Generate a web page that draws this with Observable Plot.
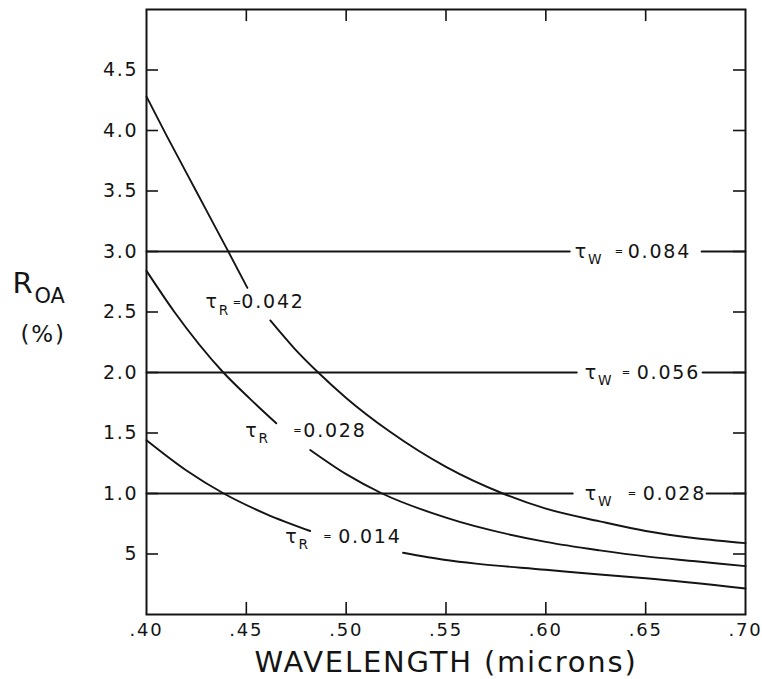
<!DOCTYPE html>
<html>
<head>
<meta charset="utf-8">
<script src="https://cdn.jsdelivr.net/npm/d3@7"></script>
<script src="https://cdn.jsdelivr.net/npm/@observablehq/plot@0.6"></script>
<style>
  html, body { margin: 0; padding: 0; background: #fff; }
  #chart svg { display: block; }
</style>
</head>
<body>
<div id="chart"></div>
<script>
// Wavelength ticks (microns) and their printed labels
const xTicks = [0.40, 0.45, 0.50, 0.55, 0.60, 0.65, 0.70];
const xTickLabels = [".40", ".45", ".50", ".55", ".60", ".65", ".70"];
// R_OA ticks (%); the 0.5 tick is printed as "5"
const yTicks = [0.5, 1.0, 1.5, 2.0, 2.5, 3.0, 3.5, 4.0, 4.5];
const yTickLabels = ["5", "1.0", "1.5", "2.0", "2.5", "3.0", "3.5", "4.0", "4.5"];

// Rayleigh optical depth curves (wavelength, R_OA %); NaN leaves the gap for the label
const lambdaR042 = [0.400, 0.410, 0.420, 0.430, 0.440, 0.4505, 0.456, 0.462, 0.474, 0.486, 0.500, 0.522, 0.550, 0.5785, 0.600, 0.627, 0.650, 0.675, 0.700];
const valueR042  = [4.28, 3.96, 3.65, 3.34, 3.03, 2.70, NaN, 2.43, 2.20, 2.00, 1.79, 1.51, 1.22, 1.00, 0.875, 0.77, 0.69, 0.63, 0.59];

const lambdaR028 = [0.400, 0.414, 0.4385, 0.452, 0.465, 0.473, 0.482, 0.500, 0.518, 0.550, 0.600, 0.627, 0.650, 0.675, 0.700];
const valueR028  = [2.84, 2.50, 2.00, 1.78, 1.58, NaN, 1.36, 1.16, 1.00, 0.80, 0.60, 0.53, 0.48, 0.44, 0.40];

const lambdaR014 = [0.400, 0.420, 0.4387, 0.460, 0.482, 0.505, 0.5285, 0.550, 0.565, 0.600, 0.627, 0.650, 0.700];
const valueR014  = [1.44, 1.19, 1.00, 0.83, 0.69, NaN, 0.51, 0.45, 0.42, 0.37, 0.33, 0.30, 0.215];

const tauR = ["0.042", "0.028", "0.014"];

// Water-vapour levels (constant R_OA %) and where each line stops for its label
const tauW = ["0.084", "0.056", "0.028"];
const levelW = [3.0, 2.0, 1.0];
const breakStartW = [0.612, 0.6155, 0.6135];
const breakEndW = [0.678, 0.6785, 0.6805];

// Label anchors in data units: tau symbol, "=" sign, value
const rLabelX = [0.4295, 0.4495, 0.4695];
const rLabelY = [2.58, 1.517, 0.64];
const rEqX = [0.4432, 0.4735, 0.4885];
const rValX = [0.4475, 0.4785, 0.496];
const wLabelX = [0.6145, 0.6195, 0.6195];
const wEqX = [0.6345, 0.638, 0.641];
const wValX = [0.641, 0.6455, 0.6485];

// Build tidy rows for the line marks
const curves = [];
[[lambdaR042, valueR042], [lambdaR028, valueR028], [lambdaR014, valueR014]].forEach(([xs, ys], k) => {
  xs.forEach((x, i) => curves.push({series: "R" + tauR[k], x, y: ys[i]}));
});
levelW.forEach((y, k) => {
  const xs = [0.40, breakStartW[k], (breakStartW[k] + breakEndW[k]) / 2, breakEndW[k], 0.70];
  xs.forEach((x, i) => curves.push({series: "W" + tauW[k], x, y: i === 2 ? NaN : y}));
});

const labels = [
  ...tauR.map((t, i) => ({sym: "τ_R", t, x: rLabelX[i], y: rLabelY[i], eq: rEqX[i], val: rValX[i]})),
  ...tauW.map((t, i) => ({sym: "τ_W", t, x: wLabelX[i], y: levelW[i], eq: wEqX[i], val: wValX[i]}))
];

const ink = "#141414";
const font = "'DejaVu Sans', 'Liberation Sans', sans-serif";

const chart = Plot.plot({
  width: 762,
  height: 679,
  marginLeft: 146,
  marginRight: 17,
  marginTop: 9,
  marginBottom: 65,
  style: {fontFamily: font, fontSize: "19px", color: ink, background: "#fff", letterSpacing: "1.8px"},
  x: {domain: [0.40, 0.70]},
  y: {domain: [0, 5]},
  marks: [
    Plot.frame({stroke: ink, strokeWidth: 2}),
    // inward ticks on all four sides
    Plot.ruleX(xTicks.slice(1, -1), {y1: 0, y2: 0.1, stroke: ink, strokeWidth: 1.6}),
    Plot.ruleX(xTicks.slice(1, -1), {y1: 4.9, y2: 5, stroke: ink, strokeWidth: 1.6}),
    Plot.ruleY(yTicks, {x1: 0.40, x2: 0.406, stroke: ink, strokeWidth: 1.6}),
    Plot.ruleY(yTicks, {x1: 0.694, x2: 0.70, stroke: ink, strokeWidth: 1.6}),
    Plot.axisX(xTicks, {tickSize: 0, tickPadding: 9, fontSize: 18, tickFormat: d => xTickLabels[xTicks.indexOf(d)], label: null}),
    Plot.axisY(yTicks, {tickSize: 0, tickPadding: 8, tickFormat: d => yTickLabels[yTicks.indexOf(d)], label: null}),
    Plot.line(curves, {x: "x", y: "y", z: "series", stroke: ink, strokeWidth: 1.9, curve: "monotone-x"}),
    // tau labels: symbol with subscript, a small "=", then the value
    Plot.text(labels, {x: "x", y: "y", text: "sym", textAnchor: "start", fill: ink, fontSize: 19}),
    Plot.text(labels, {x: "eq", y: "y", text: () => "=", textAnchor: "start", fill: ink, fontSize: 10}),
    Plot.text(labels, {x: "val", y: "y", text: "t", textAnchor: "start", fill: ink, fontSize: 19}),
    // axis titles
    Plot.text(["WAVELENGTH (microns)"], {frameAnchor: "bottom", lineAnchor: "middle", dy: 48, text: d => d, fill: ink, fontSize: 29}),
    Plot.text([2.73], {y: d => d, frameAnchor: "left", dx: -134, text: () => "R_OA", textAnchor: "start", fill: ink, fontSize: 29}),
    Plot.text([2.31], {y: d => d, frameAnchor: "left", dx: -126, text: () => "(%)", textAnchor: "start", fill: ink, fontSize: 23})
  ]
});

const svg = d3.select(chart);
// Turn "base_sub" strings into a base glyph followed by a lowered, smaller subscript
svg.selectAll("text").each(function () {
  const s = this.textContent;
  if (s === "=") { this.setAttribute("letter-spacing", "0"); return; }
  const i = s.indexOf("_");
  if (i < 0) return;
  const t = d3.select(this);
  t.text(null);
  t.append("tspan").text(s.slice(0, i));
  t.append("tspan").attr("dy", "0.45em").attr("font-size", "0.72em").attr("letter-spacing", "0").text(s.slice(i + 1));
});

document.getElementById("chart").append(chart);
</script>
</body>
</html>
